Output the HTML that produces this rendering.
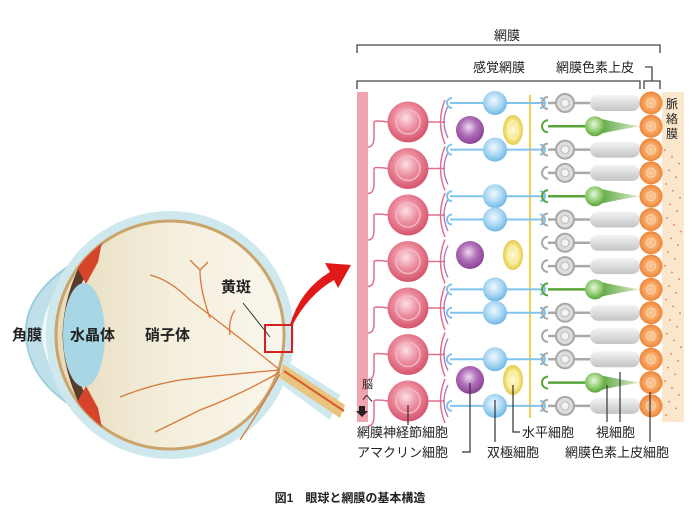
<!DOCTYPE html>
<html><head><meta charset="utf-8">
<style>
html,body{margin:0;padding:0;background:#fff;}
svg{display:block;font-family:"Liberation Sans","Noto Sans CJK JP",sans-serif;}
.lb{font-size:13px;fill:#222;}
.el{font-size:15px;fill:#222;font-weight:bold;}
</style></head><body>
<svg id="s" width="700" height="529" viewBox="0 0 700 529" xmlns="http://www.w3.org/2000/svg">
<defs>
<radialGradient id="gP" cx="0.45" cy="0.4" r="0.6"><stop offset="0" stop-color="#fbe0e6"/><stop offset="0.5" stop-color="#ec8a9c"/><stop offset="1" stop-color="#d4546c"/></radialGradient>
<radialGradient id="gV" cx="0.45" cy="0.4" r="0.6"><stop offset="0" stop-color="#eed8ef"/><stop offset="0.5" stop-color="#b070b8"/><stop offset="1" stop-color="#8a4294"/></radialGradient>
<radialGradient id="gB" cx="0.45" cy="0.4" r="0.6"><stop offset="0" stop-color="#f0f8fe"/><stop offset="0.6" stop-color="#a8d6f2"/><stop offset="1" stop-color="#6cb8e6"/></radialGradient>
<radialGradient id="gY" cx="0.5" cy="0.5" r="0.6"><stop offset="0" stop-color="#fffbe0"/><stop offset="0.6" stop-color="#f3e27a"/><stop offset="1" stop-color="#d8b830"/></radialGradient>
<radialGradient id="gG" cx="0.45" cy="0.4" r="0.6"><stop offset="0" stop-color="#e8f6dc"/><stop offset="0.6" stop-color="#90cc70"/><stop offset="1" stop-color="#5aa43c"/></radialGradient>
<radialGradient id="gO" cx="0.5" cy="0.5" r="0.6"><stop offset="0" stop-color="#fcd0a4"/><stop offset="0.6" stop-color="#f49a52"/><stop offset="1" stop-color="#e87628"/></radialGradient>
<linearGradient id="gR" x1="0" y1="0" x2="0" y2="1"><stop offset="0" stop-color="#f4f4f4"/><stop offset="0.5" stop-color="#dcdcdc"/><stop offset="1" stop-color="#c4c4c4"/></linearGradient>
<linearGradient id="gC" x1="0" y1="0" x2="1" y2="0"><stop offset="0" stop-color="#5aa43c"/><stop offset="1" stop-color="#d8eccc"/></linearGradient>
<linearGradient id="gE" x1="0" y1="0" x2="1" y2="0"><stop offset="0" stop-color="#e6dcbc"/><stop offset="0.5" stop-color="#f4eedc"/><stop offset="1" stop-color="#faf6ec"/></linearGradient>
<clipPath id="eyeclip"><circle cx="170" cy="335" r="114"/></clipPath>
</defs>

<!-- Eye -->
<path d="M66 268 Q24 298 26 335 Q28 375 66 402 Z" fill="#bfe0ea" stroke="#9ccfdc" stroke-width="2"/>
<path d="M66 282 Q42 305 42 335 Q44 365 66 390 Z" fill="#eef7f9"/>
<path d="M340 395 L285 360 L278 382 L330 420 Z" fill="#cfe8ee"/>
<circle cx="170" cy="335" r="124" fill="#cfe8ee"/>
<circle cx="170" cy="335" r="114" fill="url(#gE)" stroke="#caa46a" stroke-width="3"/>
<path d="M345 405 L283 364 L280 378 L340 418 Z" fill="#e8c47e"/>
<path d="M284 371 L344 411" stroke="#d85a2a" stroke-width="2"/>
<g clip-path="url(#eyeclip)">
<path d="M102 236 Q68 285 67 335 Q68 385 102 434" fill="none" stroke="#5a3a2a" stroke-width="9"/>
<path d="M74 262 L104 232 L98 262 L86 284 Z" fill="#d6452a"/>
<path d="M74 408 L104 438 L98 408 L86 386 Z" fill="#d6452a"/>
</g>
<ellipse cx="84" cy="335" rx="21" ry="52" fill="#a8d6e4"/>
<g fill="none" stroke="#d67a3a" stroke-width="1.3">
<path d="M280 370 Q230 330 190 300 Q170 280 150 275"/>
<path d="M210 318 Q200 290 200 270 L190 260"/><path d="M200 270 L208 262"/>
<path d="M230 335 Q228 320 235 310"/>
<path d="M280 370 Q220 375 180 380 Q150 385 120 397"/>
<path d="M280 372 Q240 395 200 410 Q180 420 155 432"/>
<path d="M280 374 Q260 410 240 440"/>
</g>
<rect x="265" y="325" width="27" height="27" fill="none" stroke="#d62020" stroke-width="2"/>
<line x1="243" y1="303" x2="270" y2="337" stroke="#333" stroke-width="1"/>
<path d="M290 325 Q300 290 330 272 L325 263 L351 265 L338 288 L334 280 Q308 295 292 326 Z" fill="#e01818"/>
<text class="el" x="12" y="340">角膜</text>
<text class="el" x="70" y="340">水晶体</text>
<text class="el" x="145" y="340">硝子体</text>
<text class="el" x="221" y="292">黄斑</text>

<!-- brackets -->
<g fill="none" stroke="#444" stroke-width="1.3">
<path d="M357 53 L357 45 L660 45 L660 53"/>
<path d="M357 89 L357 81 L640 81 L640 89"/>
<path d="M644 89 L644 81 L660 81 L660 89"/>
<path d="M645 67 L652 67 L652 81"/>
</g>
<text class="lb" x="507" y="40" text-anchor="middle">網膜</text>
<text class="lb" x="499" y="72" text-anchor="middle">感覚網膜</text>
<text class="lb" x="595" y="72" text-anchor="middle">網膜色素上皮</text>

<!-- retina -->
<rect x="662" y="92" width="22" height="330" fill="#fbe8cc"/>
<g id="dots" fill="#e07a5a"></g>
<rect x="357" y="92" width="11" height="330" fill="#f0a4b0"/>
<line x1="530" y1="95" x2="530" y2="418" stroke="#f0d050" stroke-width="2"/>
<g id="cells"></g>
<text x="362" y="388" font-size="11" fill="#222">脳</text>
<text x="362" y="402" font-size="11" fill="#222">へ</text>
<path d="M359 406 h6 v5 h3 l-6 6 l-6 -6 h3z" fill="#222"/>
<text x="672" y="108" font-size="12" fill="#222" text-anchor="middle">脈</text>
<text x="672" y="123" font-size="12" fill="#222" text-anchor="middle">絡</text>
<text x="672" y="138" font-size="12" fill="#222" text-anchor="middle">膜</text>

<!-- leader lines -->
<g fill="none" stroke="#333" stroke-width="1.2">
<path d="M408 405 L408 425"/>
<path d="M470 383 L470 452 L462 452"/>
<path d="M495 400 L495 442"/>
<path d="M513 385 L513 432 L520 432"/>
<path d="M607 385 L607 422"/><path d="M620 372 L620 422"/>
<path d="M650 392 L650 442"/>
</g>
<text class="lb" x="357" y="437">網膜神経節細胞</text>
<text class="lb" x="357" y="457">アマクリン細胞</text>
<text class="lb" x="487" y="457">双極細胞</text>
<text class="lb" x="522" y="437">水平細胞</text>
<text class="lb" x="596" y="437">視細胞</text>
<text class="lb" x="565" y="457">網膜色素上皮細胞</text>
<text x="350" y="502" font-size="12" font-weight="bold" fill="#222" text-anchor="middle">図1　眼球と網膜の基本構造</text>
</svg>
<script>
(function(){
var NS="http://www.w3.org/2000/svg",g=document.getElementById("cells"),d=document.getElementById("dots");
function el(t,a,p){var e=document.createElementNS(NS,t);for(var k in a)e.setAttribute(k,a[k]);(p||g).appendChild(e);return e;}
for(var i=0;i<40;i++){el("circle",{cx:665+((i*7)%17),cy:150+i*6.8,r:0.9},d);}
var gy=[];for(var i=0;i<7;i++)gy.push(122+i*46.5);
gy.forEach(function(y){
 el("path",{d:"M368 "+(y+25)+" Q374 "+(y+25)+" 374 "+(y+15)+" L374 "+y+" Q374 "+(y-2)+" 388 "+(y),fill:"none",stroke:"#e0708a","stroke-width":1.5});
 el("line",{x1:428,y1:y,x2:445,y2:y,stroke:"#e0708a","stroke-width":1.5});
 el("path",{d:"M445 "+(y-22)+" Q436 "+y+" 445 "+(y+22),fill:"none",stroke:"#e0708a","stroke-width":1.5});
 el("path",{d:"M448 "+(y-16)+" Q440 "+y+" 448 "+(y+16),fill:"none",stroke:"#b070b8","stroke-width":1.3});
 el("circle",{cx:408,cy:y,r:20.5,fill:"url(#gP)"});
 el("circle",{cx:408,cy:y,r:12,fill:"none",stroke:"#f4b8c4","stroke-width":1.5});
});
var greens=[1,4,8,12],bip=[0,2,4,5,8,9,11,13];
for(var i=0;i<14;i++){
 var y=103+i*23.3,gr=greens.indexOf(i)>=0;
 if(bip.indexOf(i)>=0){
  el("line",{x1:450,y1:y,x2:545,y2:y,stroke:"#80c4ec","stroke-width":2});
  el("path",{d:"M452 "+(y-5)+" a5 5 0 0 0 0 10",fill:"none",stroke:"#80c4ec","stroke-width":2});
  el("path",{d:"M540 "+(y-5)+" a5 5 0 0 1 0 10",fill:"none",stroke:"#80c4ec","stroke-width":2});
  el("circle",{cx:495,cy:y,r:12,fill:"url(#gB)"});
 }
 var c=gr?"#5aa43c":"#a8a8a8";
 el("path",{d:"M548 "+(y-6)+" a6 6 0 0 0 0 12",fill:"none",stroke:c,"stroke-width":2});
 if(gr){
  el("line",{x1:548,y1:y,x2:595,y2:y,stroke:c,"stroke-width":2.5});
  el("path",{d:"M598 "+(y-8)+" Q620 "+(y-3)+" 640 "+y+" Q620 "+(y+3)+" 598 "+(y+8)+"Z",fill:"url(#gC)"});
  el("circle",{cx:595,cy:y,r:10,fill:"url(#gG)"});
 }else{
  el("line",{x1:548,y1:y,x2:590,y2:y,stroke:c,"stroke-width":2.5});
  el("circle",{cx:565,cy:y,r:9,fill:"#ddd",stroke:"#a8a8a8","stroke-width":2});
  el("circle",{cx:565,cy:y,r:4,fill:"#f4f4f4",stroke:"#bbb","stroke-width":1});
  el("rect",{x:590,y:y-8,width:50,height:16,rx:8,fill:"url(#gR)"});
 }
 el("circle",{cx:651,cy:y,r:11.5,fill:"url(#gO)"});
 el("circle",{cx:651,cy:y,r:4.5,fill:"none",stroke:"#fcd0a4","stroke-width":1.2});
}
[130,255,380].forEach(function(y){
 el("circle",{cx:470,cy:y,r:14,fill:"url(#gV)"});
 el("ellipse",{cx:513,cy:y,rx:10,ry:15,fill:"url(#gY)"});
 el("ellipse",{cx:513,cy:y,rx:5,ry:9,fill:"none",stroke:"#fff6c0","stroke-width":1});
});
})();
</script>
</body></html>
